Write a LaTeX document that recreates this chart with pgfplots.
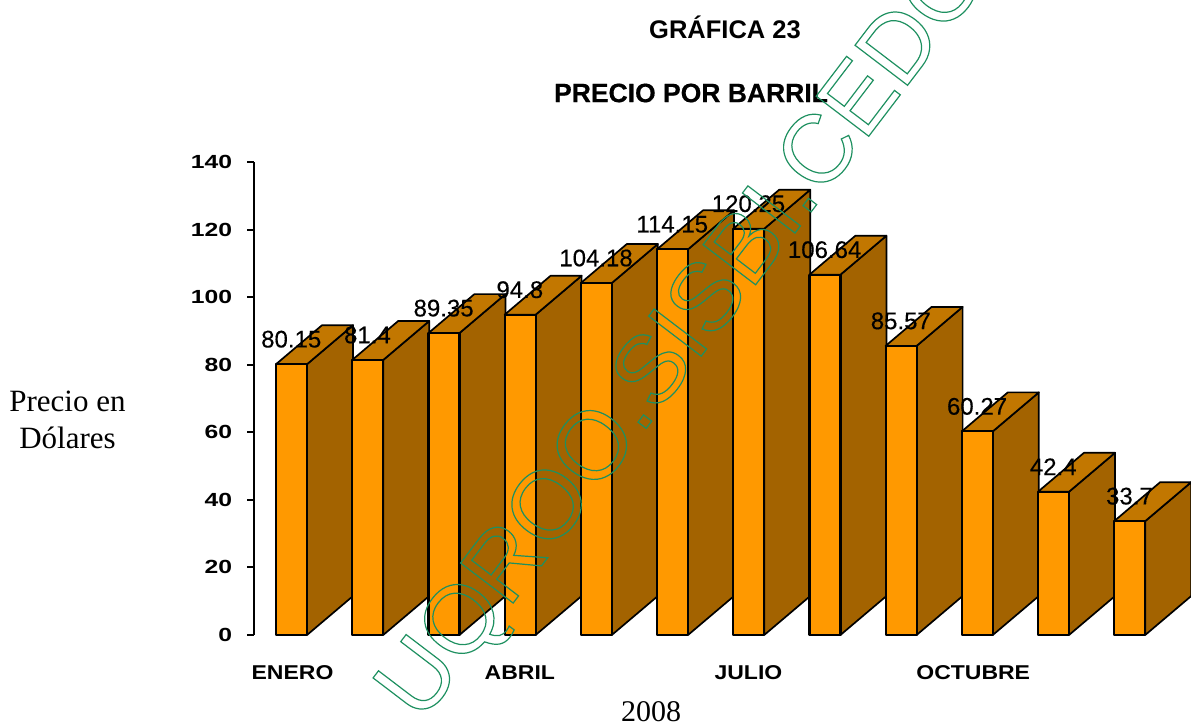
\documentclass[border=0pt]{standalone}
\usepackage{fontspec}
\setmainfont{Liberation Sans}
\newfontfamily\serifnum{Liberation Serif}
\newfontfamily\etiq[FakeBold=0.25]{Liberation Sans}
\newfontfamily\negra[FakeBold=0.6,BoldFont={Liberation Sans Bold}]{Liberation Sans Bold}
\usepackage{pgfplots}
\usepackage{pgfplotstable}
\pgfplotsset{compat=1.18}

\definecolor{front}{HTML}{FF9900}
\definecolor{side}{HTML}{A36300}
\definecolor{toptop}{HTML}{C27700}

% month, price
\pgfplotstableread{
m v
1 80.15
2 81.4
3 89.35
4 94.8
5 104.18
6 114.15
7 120.25
8 106.64
9 85.57
10 60.27
11 42.4
12 33.7
}\precios

% depth of the fake 3d look, in axis units
\def\bw{0.407}
\def\bd{0.604}
\def\bh{11.54}

\newcommand{\barra}[1]{%
  \pgfplotstablegetelem{#1}{m}\of\precios \let\mx\pgfplotsretval
  \pgfplotstablegetelem{#1}{v}\of\precios \let\vv\pgfplotsretval
  \pgfmathsetmacro\xa{\mx+\bw}
  \pgfmathsetmacro\xb{\mx+\bw+\bd}
  \pgfmathsetmacro\xc{\mx+\bd}
  \pgfmathsetmacro\vb{\vv+\bh}
  \edef\temp{%
    \noexpand\addplot[fill=side,draw=black,line width=1.7pt,line join=round] coordinates
      {(\xa,0) (\xb,\bh) (\xb,\vb) (\xa,\vv)} --cycle;
    \noexpand\addplot[fill=toptop,draw=black,line width=1.7pt,line join=round] coordinates
      {(\mx,\vv) (\xa,\vv) (\xb,\vb) (\xc,\vb)} --cycle;
    \noexpand\addplot[fill=front,draw=black,line width=2.2pt,line join=round] coordinates
      {(\mx,0) (\xa,0) (\xa,\vv) (\mx,\vv)} --cycle;
  }\temp
}

\begin{document}
\begin{tikzpicture}[x=1pt,y=1pt]
\useasboundingbox (0,0) rectangle (1191,723);
\begin{axis}[
    at={(254pt,88pt)}, anchor=south west,
    scale only axis,
    width=937pt, height=473pt,
    xmin=0.7113, xmax=13.008,
    ymin=0, ymax=140,
    axis y line*=left,
    axis x line*=bottom,
    x axis line style={draw=none},
    y axis line style={-,line width=2pt},
    xtick={1.217,4.2,7.2,10.15},
    xticklabels={ENERO,ABRIL,JULIO,OCTUBRE},
    x tick style={draw=none},
    y tick style={line width=2pt,black},
    ytick={0,20,...,140},
    tick align=outside,
    major tick length=7pt,
    yticklabel style={font=\bfseries\fontsize{19}{22}\selectfont,xscale=1.3,xshift=-8pt},
    xticklabel style={font=\bfseries\fontsize{20}{24}\selectfont,xscale=1.15,yshift=-20pt},
    /pgf/number format/assume math mode=true,
    clip=false,
]
\pgfplotsinvokeforeach{0,...,11}{\barra{#1}}
\addplot[draw=none,mark=none,
    point meta=explicit symbolic,
    nodes near coords,
    every node near coord/.style={anchor=center,yshift=25pt,font=\etiq\fontsize{24}{26}\selectfont,text=black},
] table[x expr=\thisrow{m}+0.2,y=v,meta=v] {\precios};
\end{axis}

\node[font=\bfseries\fontsize{25.5}{30}\selectfont] at (725,696) {GRÁFICA 23};
\node[font=\negra\fontsize{26.5}{30}\selectfont] at (691,630) {PRECIO POR BARRIL};
\node[font=\serifnum\fontsize{31}{37}\selectfont,align=center] at (67.5,303) {Precio en\\Dólares};
\node[font=\serifnum\fontsize{30}{36}\selectfont,inner sep=0pt] at (651,11) {2008};

% watermark, outlined letters
\node[rotate=52.7,font=\fontsize{96}{100}\selectfont,anchor=base west,inner sep=0pt] at (421,-1)
  {\special{pdf:code q 1 Tr 1.2 w 0.118 0.565 0.376 RG}UQROO.SISBI.CEDOC\special{pdf:code Q}};
\end{tikzpicture}
\end{document}
